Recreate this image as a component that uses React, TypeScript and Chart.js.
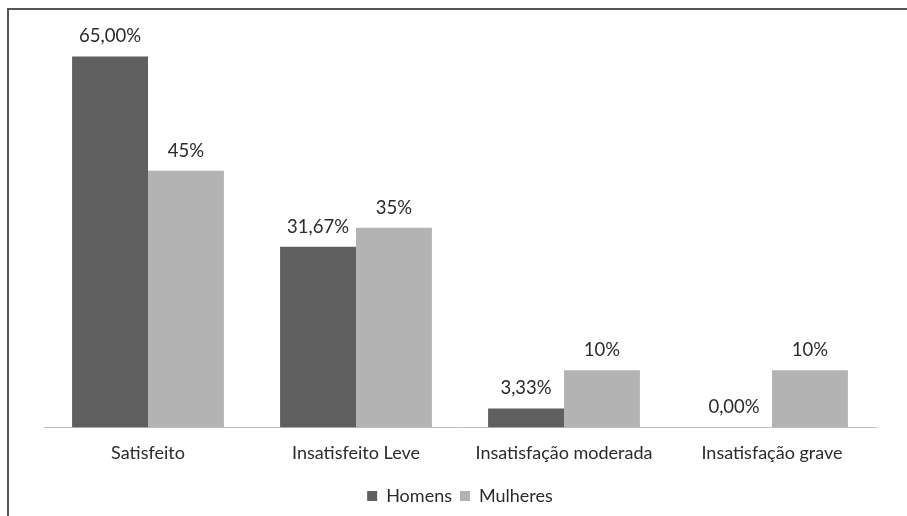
import React, { useEffect, useRef } from "react";
import { Chart, registerables } from "chart.js";

Chart.register(...registerables);

const categories = ["Satisfeito", "Insatisfeito Leve", "Insatisfação moderada", "Insatisfação grave"];
const homens = [65.0, 31.67, 3.33, 0.0];
const mulheres = [45, 35, 10, 10];
const homensLabels = ["65,00%", "31,67%", "3,33%", "0,00%"];
const mulheresLabels = ["45%", "35%", "10%", "10%"];
const seriesNames = ["Homens", "Mulheres"];

const FONT = "Lato, 'Open Sans', sans-serif";

const framePlugin = {
  id: "frame",
  beforeDraw(chart: any) {
    const ctx = chart.ctx;
    ctx.save();
    ctx.strokeStyle = "#555555";
    ctx.lineWidth = 2;
    ctx.beginPath();
    ctx.moveTo(7, 9);
    ctx.lineTo(chart.width, 9);
    ctx.moveTo(8, 8);
    ctx.lineTo(8, chart.height);
    ctx.stroke();
    ctx.restore();
  },
};

const labelPlugin = {
  id: "valueLabels",
  afterDatasetsDraw(chart: any) {
    const ctx = chart.ctx;
    const all = [homensLabels, mulheresLabels];
    ctx.save();
    ctx.font = "18.5px " + FONT;
    ctx.fillStyle = "#2b2b2b";
    ctx.textAlign = "center";
    ctx.textBaseline = "middle";
    chart.data.datasets.forEach((ds: any, di: number) => {
      const meta = chart.getDatasetMeta(di);
      meta.data.forEach((el: any, i: number) => {
        ctx.fillText(all[di][i], el.x, el.y - 20);
      });
    });
    ctx.restore();
  },
};

export default function App() {
  const ref = useRef<HTMLCanvasElement | null>(null);
  useEffect(() => {
    if (!ref.current) return;
    const chart = new Chart(ref.current, {
      type: "bar",
      data: {
        labels: categories,
        datasets: [
          {
            label: seriesNames[0],
            data: homens,
            backgroundColor: "#5f5f5f",
            borderWidth: 0,
            categoryPercentage: 0.73,
            barPercentage: 1.0,
          },
          {
            label: seriesNames[1],
            data: mulheres,
            backgroundColor: "#b3b3b3",
            borderWidth: 0,
            categoryPercentage: 0.73,
            barPercentage: 1.0,
          },
        ],
      },
      options: {
        animation: false,
        responsive: false,
        maintainAspectRatio: false,
        layout: { padding: { left: 44, right: 31, top: 28, bottom: 1 } },
        scales: {
          x: {
            grid: { display: false, drawTicks: false },
            border: { display: true, color: "#c0c0c0", width: 1 },
            ticks: { color: "#2b2b2b", font: { family: FONT, size: 18 }, padding: 15 },
          },
          y: {
            display: false,
            min: 0,
            max: 70,
          },
        },
        plugins: {
          legend: {
            position: "bottom",
            labels: {
              boxWidth: 10,
              boxHeight: 10,
              color: "#2b2b2b",
              font: { family: FONT, size: 18 },
              padding: 8,
            },
          },
          tooltip: { enabled: false },
        },
      },
      plugins: [framePlugin, labelPlugin],
    });
    return () => chart.destroy();
  }, []);
  return (
    <div style={{ position: "absolute", left: 0, top: 0, width: 907, height: 516, background: "#fff" }}>
      <canvas ref={ref} width={907} height={516} style={{ width: 907, height: 516 }} />
    </div>
  );
}
